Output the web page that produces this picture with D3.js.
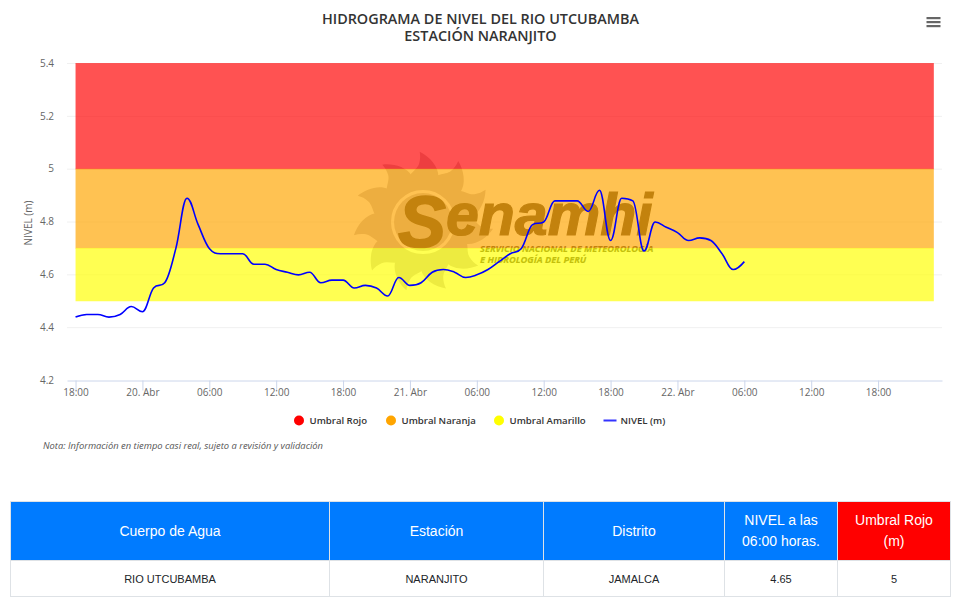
<!DOCTYPE html>
<html>
<head>
<meta charset="utf-8">
<script src="https://cdn.jsdelivr.net/npm/d3@7"></script>
<style>
  html, body { margin: 0; padding: 0; background: #fff; overflow: hidden; }
  svg { position: absolute; left: 0; top: 0; }
  text { font-family: "Open Sans", sans-serif; }
  table { position: absolute; left: 10px; top: 501px; width: 940px; border-collapse: collapse; table-layout: fixed;
    font-family: "Liberation Sans", Arial, sans-serif; }
  th { height: 59px; padding: 0 8px; box-sizing: border-box; background: #007bff; color: #fff; font-size: 14px;
    font-weight: 400; line-height: 21px; border: 1px solid #dee2e6; text-align: center; }
  td { height: 36px; padding: 0; box-sizing: border-box; color: #212529; font-size: 11px; text-align: center;
    border: 1px solid #dee2e6; }
</style>
</head>
<body>
<svg id="chart" width="972" height="606"></svg>
<script>
// lecturas horarias desde el 19 Abr 18:00
const inicio = Date.UTC(2019, 3, 19, 18);
const niveles = [
  4.44, 4.45, 4.45, 4.44, 4.45, 4.48, 4.46, 4.55, 4.57, 4.7,
  4.89, 4.79, 4.7, 4.68, 4.68, 4.68, 4.64, 4.64, 4.62, 4.61,
  4.6, 4.61, 4.57, 4.58, 4.58, 4.55, 4.56, 4.55, 4.52, 4.59,
  4.56, 4.57, 4.61, 4.62, 4.61, 4.59, 4.6, 4.62, 4.65, 4.68,
  4.7, 4.79, 4.8, 4.88, 4.88, 4.88, 4.84, 4.92, 4.73, 4.89,
  4.88, 4.69, 4.8, 4.78, 4.76, 4.73, 4.74, 4.73, 4.68, 4.62, 4.65
];
const horas = niveles.map((d, i) => d3.utcHour.offset(inicio, i));

const umbralNombres = ["Umbral Rojo", "Umbral Naranja", "Umbral Amarillo"];
const umbralDesde = [5, 4.7, 4.5];
const umbralHasta = [5.4, 5, 4.7];
const umbralColores = ["#ff0000", "#ffa500", "#ffff00"];
const umbralFin = Date.UTC(2019, 3, 22, 23);

const yTicks = [4.2, 4.4, 4.6, 4.8, 5, 5.2, 5.4];
const xTickHoras = [0, 6, 12, 18, 24, 30, 36, 42, 48, 54, 60, 66, 72];

const columnas = ["Cuerpo de Agua", "Estación", "Distrito", "NIVEL a las 06:00 horas.", "Umbral Rojo (m)"];
const fila = ["RIO UTCUBAMBA", "NARANJITO", "JAMALCA", "4.65", "5"];
const anchos = [319, 214, 181, 113, 113];

// spline con puntos de control al 40%, sin pasarse de los vecinos
function curveSpline(context) {
  let pts = [];
  return {
    lineStart() { pts = []; },
    point(px, py) { pts.push([px, py]); },
    lineEnd() {
      const s = 1.5, den = 2.5;
      let prevX = pts[0][0], prevY = pts[0][1];
      context.moveTo(prevX, prevY);
      pts.forEach((p, i) => {
        if (i === 0) return;
        const [px, py] = p;
        let lx = px, ly = py, rx = px, ry = py;
        if (i < pts.length - 1) {
          const a = pts[i - 1], b = pts[i + 1];
          lx = (s * px + a[0]) / den;
          ly = (s * py + a[1]) / den;
          rx = (s * px + b[0]) / den;
          ry = (s * py + b[1]) / den;
          const corr = ((ry - ly) * (rx - px)) / (rx - lx) + py - ry;
          ly += corr;
          ry += corr;
          if (ly > a[1] && ly > py) { ly = Math.max(a[1], py); ry = 2 * py - ly; }
          else if (ly < a[1] && ly < py) { ly = Math.min(a[1], py); ry = 2 * py - ly; }
          if (ry > b[1] && ry > py) { ry = Math.max(b[1], py); ly = 2 * py - ry; }
          else if (ry < b[1] && ry < py) { ry = Math.min(b[1], py); ly = 2 * py - ry; }
        }
        context.bezierCurveTo(prevX, prevY, lx, ly, px, py);
        prevX = rx;
        prevY = ry;
      });
    }
  };
}

const svg = d3.select("#chart");
const x = d3.scaleUtc()
  .domain([Date.UTC(2019, 3, 19, 17, 14), Date.UTC(2019, 3, 22, 23, 44)])
  .range([67, 942]);
const y = d3.scaleLinear().domain([4.2, 5.4]).range([380.5, 63.5]);

// titulo
svg.append("g").selectAll("text")
  .data(["HIDROGRAMA DE NIVEL DEL RIO UTCUBAMBA", "ESTACIÓN NARANJITO"])
  .join("text")
  .attr("x", 480.5)
  .attr("y", (d, i) => 24 + i * 17)
  .attr("text-anchor", "middle")
  .attr("fill", "#333")
  .style("font-size", "14.4px")
  .style("font-weight", 600)
  .text(d => d);

// menu
svg.append("g").selectAll("rect")
  .data([0, 1, 2])
  .join("rect")
  .attr("x", 926.5)
  .attr("y", d => 17 + d * 4)
  .attr("width", 14)
  .attr("height", 2.2)
  .attr("fill", "#666");

// grid
svg.append("g").selectAll("line")
  .data(yTicks.slice(1))
  .join("line")
  .attr("x1", 67)
  .attr("x2", 942)
  .attr("y1", d => y(d))
  .attr("y2", d => y(d))
  .attr("stroke", "#f0f0f0");

// logo de fondo, las bandas van encima
const logo = svg.append("g").attr("transform", "translate(423,222)");
const rayo = "M-17,-33 C-22,-46 -9,-50 -7,-58 C-6,-62 -6,-66 -7,-70 C3,-66 13,-56 13,-46 C13,-41 15,-37 17,-33 Z";
logo.selectAll("path")
  .data(d3.range(11))
  .join("path")
  .attr("d", rayo)
  .attr("transform", d => `rotate(${3 + d * 360 / 11})`)
  .attr("fill", "#c8c2c6");
logo.append("circle").attr("r", 37).attr("fill", "none").attr("stroke", "#c8c2c6").attr("stroke-width", 10);
logo.append("circle").attr("r", 29).attr("fill", "#c8c2c6");
const marca = svg.append("g").attr("fill", "#46392a").attr("stroke", "#46392a").style("font-weight", 700).style("font-style", "italic");
marca.append("text").attr("x", 398).attr("y", 247).attr("stroke-width", 1.6).style("font-family", "Liberation Sans").style("font-size", "72px").text("S");
marca.append("text").attr("x", 446).attr("y", 235).attr("stroke-width", 1.2).style("font-family", "Liberation Sans").style("font-size", "59px").text("enamhi");
marca.append("text").attr("x", 480).attr("y", 252).attr("stroke-width", 0.15).style("font-size", "9.3px").text("SERVICIO NACIONAL DE METEOROLOGÍA");
marca.append("text").attr("x", 480).attr("y", 263).attr("stroke-width", 0.15).style("font-size", "9.3px").text("E HIDROLOGÍA DEL PERÚ");

// bandas de umbral
const bandas = svg.append("g");
bandas.selectAll("rect")
  .data(umbralNombres)
  .join("rect")
  .attr("x", x(inicio))
  .attr("width", x(umbralFin) - x(inicio))
  .attr("y", (d, i) => y(umbralHasta[i]))
  .attr("height", (d, i) => y(umbralDesde[i]) - y(umbralHasta[i]))
  .attr("fill", (d, i) => umbralColores[i])
  .attr("fill-opacity", 0.68);
bandas.selectAll("line")
  .data(umbralNombres)
  .join("line")
  .attr("x1", x(inicio))
  .attr("x2", x(umbralFin))
  .attr("y1", (d, i) => y(umbralHasta[i]))
  .attr("y2", (d, i) => y(umbralHasta[i]))
  .attr("stroke", (d, i) => umbralColores[i])
  .attr("stroke-opacity", 0.45);

// ejes
const xAxis = d3.axisBottom(x)
  .tickValues(xTickHoras.map(h => d3.utcHour.offset(inicio, h)))
  .tickFormat(d => d.getUTCHours() === 0 ? d3.utcFormat("%-d. ")(d) + "Abr" : d3.utcFormat("%H:%M")(d))
  .tickSize(10)
  .tickSizeOuter(0);
const gx = svg.append("g").attr("transform", "translate(0,380.5)").call(xAxis);
gx.selectAll("path, line").attr("stroke", "#ccd6eb");
gx.selectAll("text").attr("fill", "#666").attr("dy", "0.2em").style("font-size", "10px");

const yAxis = d3.axisLeft(y).tickValues(yTicks).tickSize(0).tickPadding(13).tickFormat(d3.format("~g"));
const gy = svg.append("g").attr("transform", "translate(67,-0.5)").call(yAxis);
gy.select("path").remove();
gy.selectAll("text").attr("fill", "#666").style("font-size", "10px");

svg.append("text")
  .attr("transform", "translate(32,223) rotate(-90)")
  .attr("text-anchor", "middle")
  .attr("fill", "#666")
  .style("font-size", "10px")
  .text("NIVEL (m)");

// linea de nivel
const linea = d3.line()
  .x((d, i) => x(horas[i]))
  .y(d => y(d))
  .curve(curveSpline);
svg.append("path")
  .datum(niveles)
  .attr("d", linea)
  .attr("fill", "none")
  .attr("stroke", "#0000ff")
  .attr("stroke-width", 1.6);

// leyenda
const legendX = [299, 391, 499];
const legend = svg.append("g").attr("fill", "#333").style("font-size", "9.6px").style("font-weight", 600);
umbralNombres.forEach((d, i) => {
  legend.append("circle").attr("cx", legendX[i]).attr("cy", 420.5).attr("r", 5).attr("fill", umbralColores[i]);
  legend.append("text").attr("x", legendX[i] + 10.5).attr("y", 424).text(d);
});
legend.append("line").attr("x1", 603.5).attr("x2", 616.5).attr("y1", 420.5).attr("y2", 420.5).attr("stroke", "#3333ff").attr("stroke-width", 2);
legend.append("text").attr("x", 620.5).attr("y", 424).text("NIVEL (m)");

svg.append("text")
  .attr("x", 43)
  .attr("y", 449)
  .attr("fill", "#555")
  .style("font-size", "9.4px")
  .style("font-style", "italic")
  .text("Nota: Información en tiempo casi real, sujeto a revisión y validación");

// tabla
const tabla = d3.select("body").append("table");
tabla.append("colgroup").selectAll("col").data(anchos).join("col").style("width", d => d + "px");
tabla.append("tr").selectAll("th")
  .data(columnas)
  .join("th")
  .style("background", (d, i) => i === 4 ? "#ff0000" : null)
  .text(d => d);
tabla.append("tr").selectAll("td").data(fila).join("td").text(d => d);
</script>
</body>
</html>
